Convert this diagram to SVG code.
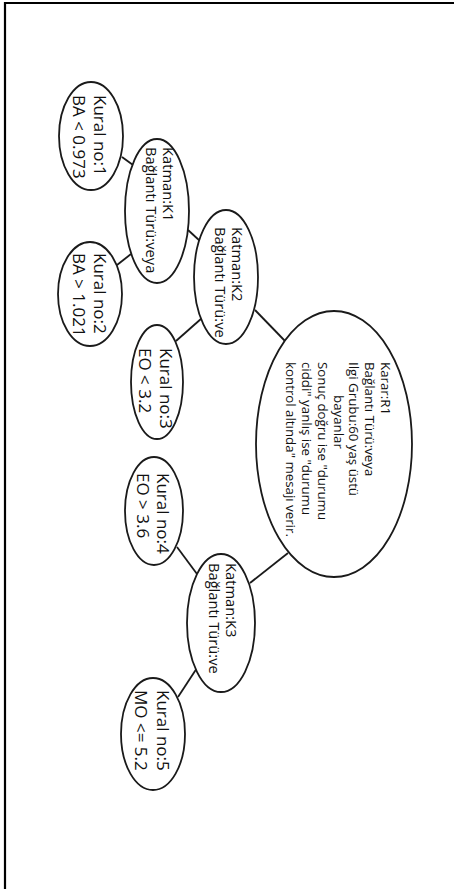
<svg xmlns="http://www.w3.org/2000/svg" width="454" height="889" viewBox="0 0 454 889">
<style>
.n ellipse{fill:#fff;stroke:#1a1a1a;stroke-width:1.8}
.c line{stroke:#1a1a1a;stroke-width:1.8}
text{font-family:"Open Sans","Noto Sans","DejaVu Sans",sans-serif;fill:#111}
.k{font-size:17px}
.m{font-size:14.7px}
.r{font-size:13.3px}
</style>
<rect width="454" height="889" fill="#fff"/>
<g id="frame"><path d="M5,889 V3 H454" fill="none" stroke="#000" stroke-width="2.2"/></g>
<g class="c" id="connectors">
<line x1="122" y1="157" x2="133" y2="165"/>
<line x1="117" y1="265" x2="131" y2="254"/>
<line x1="188" y1="230" x2="200" y2="241"/>
<line x1="176" y1="341" x2="202" y2="318"/>
<line x1="255" y1="310" x2="285" y2="341"/>
<line x1="288" y1="553" x2="250" y2="583"/>
<line x1="177" y1="547" x2="197" y2="574"/>
<line x1="197" y1="668" x2="178" y2="697"/>
</g>
<g class="n" id="kural1"><ellipse cx="91" cy="136" rx="32" ry="54"/>
<text class="k" transform="translate(91,136) rotate(90)"><tspan x="-41" y="-3">Kural no:1</tspan><tspan x="-41" y="18">BA &lt; 0.973</tspan></text></g>
<g class="n" id="kural2"><ellipse cx="90" cy="294" rx="32" ry="52"/>
<text class="k" transform="translate(90,294) rotate(90)"><tspan x="-41" y="-4">Kural no:2</tspan><tspan x="-41" y="17">BA &gt; 1.021</tspan></text></g>
<g class="n" id="k1"><ellipse cx="157" cy="211" rx="32" ry="72"/>
<text class="m" transform="translate(157,211) rotate(90)"><tspan x="-64" y="-6">Katman:K1</tspan><tspan x="-64" y="11">Bağlantı Türü:veya</tspan></text></g>
<g class="n" id="k2"><ellipse cx="226" cy="277" rx="32" ry="67"/>
<text class="m" transform="translate(226,277) rotate(90)"><tspan x="-50" y="-6">Katman:K2</tspan><tspan x="-50" y="11">Bağlantı Türü:ve</tspan></text></g>
<g class="n" id="kural3"><ellipse cx="157" cy="382" rx="26" ry="57"/>
<text class="k" transform="translate(157,382) rotate(90)"><tspan x="-34" y="-3">Kural no:3</tspan><tspan x="-34" y="18">EO &lt; 3.2</tspan></text></g>
<g class="n" id="r1"><ellipse cx="334" cy="444" rx="78" ry="133"/>
<text class="r" transform="translate(334,444) rotate(90)"><tspan x="-82" y="-47">Karar:R1</tspan><tspan x="-82" y="-31.2">Bağlantı Türü:veya</tspan><tspan x="-82" y="-15.3">Ilgi Grubu:60 yaş üstü</tspan><tspan x="-49" y="0.5">bayanlar</tspan><tspan x="-82" y="16.3">Sonuç doğru ise "durumu</tspan><tspan x="-82" y="32.2">ciddi" yanlış ise "durumu</tspan><tspan x="-82" y="48">kontrol altında" mesajı verir.</tspan></text></g>
<g class="n" id="kural4"><ellipse cx="154" cy="511" rx="29" ry="54"/>
<text class="k" transform="translate(154,511) rotate(90)"><tspan x="-38" y="-3">Kural no:4</tspan><tspan x="-38" y="17">EO &gt; 3.6</tspan></text></g>
<g class="n" id="k3"><ellipse cx="221" cy="623" rx="34" ry="69"/>
<text class="m" transform="translate(221,623) rotate(90)"><tspan x="-60" y="-5">Katman:K3</tspan><tspan x="-60" y="12">Bağlantı Türü:ve</tspan></text></g>
<g class="n" id="kural5"><ellipse cx="153" cy="734" rx="32" ry="56"/>
<text class="k" transform="translate(153,734) rotate(90)"><tspan x="-44" y="-4">Kural no:5</tspan><tspan x="-44" y="18">MO &lt;= 5.2</tspan></text></g>
</svg>
